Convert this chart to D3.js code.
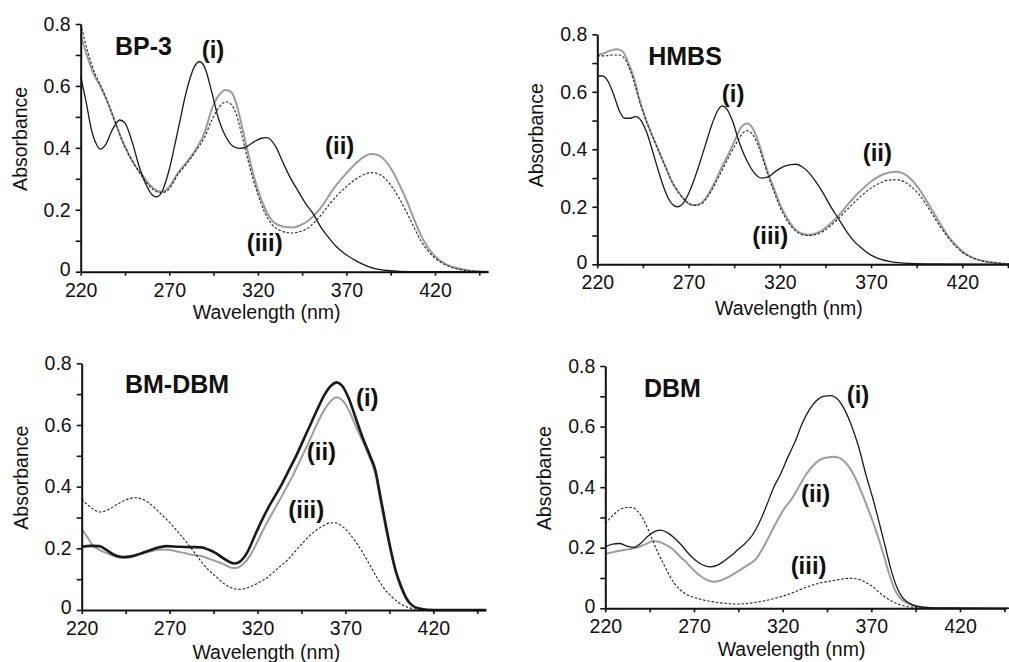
<!DOCTYPE html>
<html>
<head>
<meta charset="utf-8">
<script src="https://cdn.jsdelivr.net/npm/d3@7"></script>
<style>
  html, body { margin: 0; padding: 0; background: #fff; }
  svg { display: block; }
  text { font-family: "Liberation Sans", Arial, Helvetica, sans-serif; fill: #111; }
</style>
</head>
<body>
<svg id="chart" width="1009" height="662"></svg>
<script>
// ---------------- DATA ----------------
const wavelengthTicks = d3.range(220, 450, 25);          // 220,245,...,445
const absorbanceTicks = [0, 0.1, 0.2, 0.3, 0.4, 0.5, 0.6, 0.7, 0.8];
const panelTitles = ["BP-3", "HMBS", "BM-DBM", "DBM"];
const seriesNames = ["(i)", "(ii)", "(iii)"];
const xTitle = "Wavelength (nm)";
const yTitle = "Absorbance";

// BP-3  [wavelength nm, absorbance]
const bp3_i = [[220,0.63],[223,0.55],[226,0.46],[229,0.41],[231,0.396],[234,0.41],[238,0.46],[242,0.49],[245,0.48],[249,0.42],[253,0.34],[257,0.28],[261,0.245],[263,0.242],[266,0.26],[270,0.33],[275,0.46],[280,0.59],[284,0.66],[287,0.678],[290,0.66],[294,0.58],[298,0.49],[302,0.435],[306,0.405],[310,0.398],[314,0.405],[318,0.42],[322,0.431],[325,0.433],[330,0.405],[334,0.355],[338,0.307],[343,0.258],[347,0.22],[351,0.189],[356,0.14],[360,0.11],[364,0.083],[369,0.058],[374,0.04],[380,0.022],[386,0.01],[395,0.003],[405,0],[450,0]];
const bp3_ii = [[220,0.765],[224,0.69],[228,0.63],[231,0.60],[235,0.55],[239,0.49],[243,0.43],[247,0.38],[251,0.34],[255,0.31],[259,0.28],[263,0.262],[266,0.258],[270,0.275],[275,0.32],[280,0.355],[285,0.395],[290,0.45],[294,0.525],[298,0.57],[302,0.587],[305,0.58],[308,0.54],[311,0.47],[314,0.395],[317,0.325],[320,0.265],[324,0.205],[328,0.165],[332,0.15],[336,0.144],[340,0.143],[344,0.15],[348,0.163],[352,0.183],[356,0.21],[360,0.245],[365,0.285],[370,0.318],[375,0.348],[380,0.372],[384,0.38],[388,0.376],[392,0.358],[396,0.325],[400,0.28],[404,0.23],[408,0.172],[412,0.118],[416,0.078],[420,0.05],[425,0.028],[430,0.015],[438,0.005],[450,0]];
const bp3_iii = [[220,0.8],[224,0.71],[228,0.64],[231,0.605],[235,0.55],[239,0.49],[243,0.43],[247,0.38],[251,0.34],[255,0.305],[259,0.275],[263,0.258],[266,0.255],[270,0.268],[275,0.315],[280,0.35],[285,0.39],[290,0.435],[294,0.49],[298,0.53],[302,0.549],[305,0.54],[308,0.505],[311,0.44],[314,0.37],[317,0.305],[320,0.25],[324,0.19],[328,0.152],[332,0.135],[336,0.127],[340,0.125],[344,0.13],[348,0.14],[352,0.16],[356,0.185],[360,0.215],[365,0.248],[370,0.275],[375,0.298],[380,0.314],[384,0.32],[388,0.316],[392,0.3],[396,0.272],[400,0.235],[404,0.192],[408,0.145],[412,0.1],[416,0.068],[420,0.044],[425,0.025],[430,0.013],[438,0.004],[450,0]];

// HMBS
const hmbs_i = [[220,0.655],[223,0.655],[226,0.635],[229,0.59],[232,0.535],[235,0.508],[238,0.508],[241,0.514],[244,0.5],[247,0.46],[250,0.4],[253,0.335],[256,0.275],[259,0.228],[262,0.204],[264,0.2],[267,0.212],[271,0.26],[275,0.33],[279,0.41],[283,0.49],[286,0.535],[288.5,0.551],[291,0.54],[294,0.5],[298,0.42],[302,0.36],[306,0.318],[310,0.3],[314,0.305],[318,0.325],[322,0.34],[326,0.347],[329,0.348],[332,0.34],[336,0.318],[340,0.285],[344,0.245],[348,0.2],[352,0.16],[356,0.12],[360,0.085],[365,0.055],[370,0.032],[375,0.018],[380,0.01],[388,0.004],[400,0.001],[450,0]];
const hmbs_ii = [[220,0.728],[224,0.735],[228,0.745],[231,0.748],[234,0.74],[237,0.70],[240,0.65],[243,0.575],[246,0.515],[249,0.465],[252,0.42],[255,0.375],[258,0.33],[261,0.285],[264,0.255],[267,0.23],[270,0.212],[273,0.206],[276,0.21],[280,0.235],[284,0.28],[288,0.335],[292,0.385],[296,0.44],[299,0.478],[302,0.49],[305,0.475],[308,0.43],[311,0.37],[314,0.31],[317,0.26],[320,0.21],[324,0.16],[328,0.125],[332,0.107],[336,0.103],[340,0.108],[344,0.122],[348,0.143],[352,0.168],[356,0.198],[360,0.228],[365,0.26],[370,0.288],[375,0.308],[380,0.319],[384,0.322],[388,0.315],[392,0.295],[396,0.265],[400,0.225],[404,0.183],[408,0.14],[412,0.1],[416,0.07],[420,0.045],[425,0.025],[430,0.014],[440,0.004],[450,0]];
const hmbs_iii = [[220,0.725],[224,0.725],[228,0.728],[232,0.728],[235,0.715],[238,0.675],[241,0.615],[244,0.55],[247,0.495],[250,0.448],[253,0.403],[256,0.358],[259,0.314],[262,0.275],[265,0.245],[268,0.222],[271,0.208],[274,0.205],[277,0.21],[281,0.24],[285,0.285],[289,0.335],[293,0.385],[297,0.43],[300,0.458],[302,0.465],[305,0.452],[308,0.415],[311,0.36],[314,0.3],[317,0.25],[320,0.2],[324,0.152],[328,0.12],[332,0.104],[336,0.1],[340,0.104],[344,0.115],[348,0.135],[352,0.158],[356,0.185],[360,0.21],[365,0.24],[370,0.265],[375,0.283],[380,0.293],[384,0.294],[388,0.288],[392,0.27],[396,0.245],[400,0.21],[404,0.17],[408,0.13],[412,0.095],[416,0.065],[420,0.042],[425,0.024],[430,0.013],[440,0.004],[450,0]];

// BM-DBM
const bmdbm_i = [[220,0.205],[225,0.208],[230,0.207],[234,0.195],[238,0.18],[243,0.172],[248,0.174],[253,0.182],[258,0.192],[263,0.202],[268,0.207],[275,0.205],[282,0.204],[288,0.203],[292,0.196],[296,0.185],[300,0.17],[304,0.156],[307,0.151],[310,0.157],[314,0.185],[318,0.235],[322,0.285],[326,0.33],[330,0.37],[334,0.41],[338,0.455],[342,0.5],[346,0.55],[350,0.6],[354,0.65],[358,0.697],[362,0.728],[365,0.738],[368,0.728],[372,0.685],[376,0.62],[380,0.556],[384,0.5],[387,0.454],[390,0.365],[393,0.275],[396,0.19],[399,0.12],[402,0.072],[405,0.035],[408,0.015],[412,0.005],[420,0],[450,0]];
const bmdbm_ii = [[220,0.262],[223,0.238],[226,0.212],[230,0.195],[234,0.185],[239,0.173],[244,0.169],[249,0.173],[254,0.182],[259,0.19],[264,0.195],[269,0.195],[274,0.19],[279,0.184],[284,0.178],[288,0.175],[293,0.165],[298,0.155],[302,0.145],[306,0.136],[309,0.138],[312,0.15],[316,0.178],[320,0.222],[324,0.268],[328,0.31],[332,0.35],[336,0.392],[340,0.435],[344,0.482],[348,0.53],[352,0.58],[356,0.628],[360,0.666],[365,0.69],[368,0.682],[372,0.648],[376,0.595],[380,0.545],[384,0.49],[387,0.443],[390,0.35],[393,0.262],[396,0.185],[399,0.115],[402,0.065],[405,0.033],[408,0.015],[412,0.005],[420,0],[450,0]];
const bmdbm_iii = [[220,0.359],[224,0.338],[228,0.322],[231,0.318],[235,0.325],[240,0.342],[245,0.357],[250,0.364],[253,0.362],[257,0.352],[261,0.334],[265,0.312],[269,0.29],[273,0.265],[277,0.238],[281,0.21],[285,0.18],[289,0.15],[293,0.125],[297,0.105],[301,0.085],[305,0.072],[309,0.067],[313,0.07],[317,0.078],[321,0.09],[325,0.103],[329,0.122],[333,0.142],[337,0.162],[341,0.187],[345,0.213],[349,0.237],[353,0.257],[357,0.272],[361,0.282],[364,0.283],[368,0.272],[372,0.25],[376,0.22],[380,0.185],[384,0.145],[388,0.105],[392,0.07],[396,0.045],[400,0.025],[404,0.012],[408,0.005],[414,0.001],[450,0]];

// DBM
const dbm_i = [[220,0.203],[224,0.212],[228,0.214],[232,0.206],[236,0.201],[240,0.215],[244,0.238],[248,0.254],[251,0.258],[255,0.25],[259,0.232],[263,0.208],[267,0.18],[271,0.158],[275,0.143],[279,0.137],[283,0.142],[287,0.156],[291,0.174],[295,0.195],[299,0.215],[303,0.242],[307,0.285],[311,0.34],[315,0.4],[319,0.445],[323,0.5],[327,0.55],[331,0.61],[335,0.655],[339,0.685],[343,0.7],[347,0.702],[351,0.69],[355,0.655],[359,0.6],[363,0.53],[367,0.44],[371,0.36],[375,0.27],[378,0.2],[381,0.13],[384,0.075],[387,0.04],[391,0.018],[396,0.006],[405,0.001],[450,0]];
const dbm_ii = [[220,0.179],[224,0.185],[228,0.19],[232,0.194],[236,0.198],[240,0.205],[244,0.215],[247,0.222],[250,0.22],[254,0.21],[258,0.195],[262,0.172],[266,0.15],[270,0.125],[274,0.105],[278,0.092],[281,0.088],[285,0.092],[289,0.102],[293,0.115],[297,0.13],[301,0.145],[305,0.163],[309,0.2],[313,0.245],[317,0.29],[321,0.33],[325,0.36],[329,0.4],[333,0.44],[337,0.47],[341,0.49],[345,0.498],[349,0.5],[353,0.493],[357,0.47],[361,0.43],[365,0.375],[369,0.315],[373,0.25],[377,0.175],[380,0.115],[383,0.065],[386,0.035],[390,0.018],[395,0.008],[400,0.003],[410,0],[450,0]];
const dbm_iii = [[220,0.28],[224,0.305],[228,0.325],[232,0.333],[235,0.333],[238,0.322],[241,0.298],[244,0.262],[247,0.22],[250,0.18],[253,0.145],[256,0.11],[259,0.082],[262,0.062],[266,0.045],[270,0.036],[275,0.028],[280,0.022],[285,0.018],[290,0.015],[295,0.014],[300,0.016],[305,0.02],[310,0.025],[315,0.032],[320,0.04],[325,0.05],[330,0.062],[335,0.073],[340,0.082],[345,0.088],[350,0.093],[355,0.098],[358,0.099],[362,0.097],[367,0.085],[370,0.075],[374,0.055],[378,0.036],[382,0.022],[386,0.012],[390,0.006],[395,0.003],[400,0.001],[450,0]];

// label anchor points in data coordinates [wavelength, absorbance] for (i),(ii),(iii) and title
const bp3_labels   = [[288.3,0.689],[357.9,0.379],[313.7,0.067]];
const hmbs_labels  = [[288.2,0.566],[365.4,0.36],[304.9,0.07]];
const bmdbm_labels = [[376,0.662],[348,0.486],[337.5,0.297]];
const dbm_labels   = [[356.1,0.677],[330.3,0.352],[324.5,0.112]];
const titleAnchors = [[239.4,0.7],[247.9,0.693],[244.6,0.703],[241.8,0.699]];

// ---------------- LAYOUT ----------------
const panels = [
  {x0:80.7,  x420:435,   xmax:450, yBase:271.7, yTop:24,    series:[bp3_i,bp3_ii,bp3_iii],       labels:bp3_labels,   iWidth:1.3, xTitleDy:47, yTitleDy:-9},
  {x0:597.3, x420:962.3, xmax:450, yBase:264.3, yTop:34.3,  series:[hmbs_i,hmbs_ii,hmbs_iii],    labels:hmbs_labels,  iWidth:1.3, xTitleDy:51, yTitleDy:-14},
  {x0:81.7,  x420:433.3, xmax:450, yBase:610,   yTop:363.3, series:[bmdbm_i,bmdbm_ii,bmdbm_iii], labels:bmdbm_labels, iWidth:2.6, xTitleDy:49, yTitleDy:-9},
  {x0:605.3, x420:960,   xmax:446, yBase:608.3, yTop:366,   series:[dbm_i,dbm_ii,dbm_iii],       labels:dbm_labels,   iWidth:1.3, xTitleDy:48, yTitleDy:-9}
];

const styles = [
  {color:"#1a1a1a", dash:null},
  {color:"#9d9d9d", dash:null, width:2},
  {color:"#222",    dash:"2.5,1.8", width:1.1}
];

const svg = d3.select("#chart");

panels.forEach((p, pi) => {
  const k = (p.x420 - p.x0) / 200;
  const x = d3.scaleLinear().domain([220, p.xmax]).range([p.x0, p.x0 + (p.xmax - 220) * k]);
  const y = d3.scaleLinear().domain([0, 0.8]).range([p.yBase, p.yTop]);
  const g = svg.append("g");

  const line = d3.line().x(d => x(d[0])).y(d => y(d[1])).curve(d3.curveMonotoneX);

  // draw order: (ii), (iii), (i)
  [1, 2, 0].forEach(si => {
    const st = styles[si];
    g.append("path")
      .datum(p.series[si])
      .attr("d", line)
      .attr("fill", "none")
      .attr("stroke", st.color)
      .attr("stroke-width", si === 0 ? p.iWidth : st.width)
      .attr("stroke-dasharray", st.dash)
      .attr("stroke-linejoin", "round");
  });

  // axes
  const xAxis = d3.axisBottom(x)
    .tickValues(wavelengthTicks.filter(t => t <= p.xmax))
    .tickSizeInner(4).tickSizeOuter(0).tickPadding(7)
    .tickFormat(t => ((t - 220) % 50 === 0) ? String(t) : "");
  const yAxis = d3.axisLeft(y)
    .tickValues(absorbanceTicks)
    .tickSizeInner(5).tickSizeOuter(0).tickPadding(5)
    .tickFormat(t => (Math.round(t * 10) % 2 === 0) ? (t === 0 ? "0" : d3.format(".1f")(t)) : "");

  const gx = g.append("g").attr("transform", `translate(0,${p.yBase})`).call(xAxis);
  const gy = g.append("g").attr("transform", `translate(${p.x0},0)`).call(yAxis);
  [gx, gy].forEach(ax => {
    ax.select(".domain").attr("stroke", "#111").attr("stroke-width", 2);
    ax.selectAll(".tick line").attr("stroke", "#111").attr("stroke-width", 1.6);
    ax.selectAll(".tick text")
      .attr("fill", "#111")
      .style("font-family", '"Liberation Sans", Arial, sans-serif')
      .style("font-size", "19.5px");
  });
  // nudge the "0" absorbance label up slightly, as in the reference
  gy.selectAll(".tick text").filter(t => t === 0).attr("dy", "0.2em");

  // axis titles
  g.append("text")
    .attr("x", x(325)).attr("y", p.yBase + p.xTitleDy)
    .attr("text-anchor", "middle")
    .style("font-size", "19.5px")
    .text(xTitle);
  g.append("text")
    .attr("transform", `translate(${p.x0 - 54},${(p.yBase + p.yTop) / 2 + p.yTitleDy}) rotate(-90)`)
    .attr("text-anchor", "middle")
    .style("font-size", "19.5px")
    .text(yTitle);

  // panel title
  g.append("text")
    .attr("x", x(titleAnchors[pi][0])).attr("y", y(titleAnchors[pi][1]))
    .style("font-size", "25px").style("font-weight", "bold")
    .text(panelTitles[pi]);

  // series labels
  p.labels.forEach((lp, li) => {
    g.append("text")
      .attr("x", x(lp[0])).attr("y", y(lp[1]))
      .style("font-size", "24px").style("font-weight", "bold")
      .text(seriesNames[li]);
  });
});
</script>
</body>
</html>
